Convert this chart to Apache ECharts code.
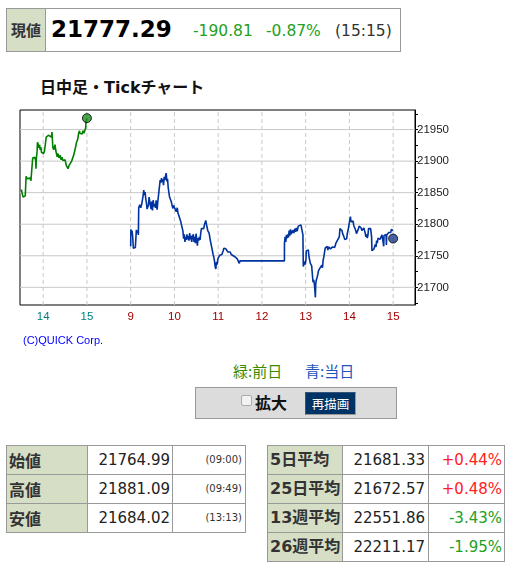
<!DOCTYPE html>
<html><head><meta charset="utf-8">
<script src="https://cdn.jsdelivr.net/npm/echarts@6/dist/echarts.min.js"></script>
<style>
html,body{margin:0;padding:0;background:#fff;width:513px;height:569px;overflow:hidden;font-family:'DejaVu Sans','Noto Sans CJK JP',sans-serif;}
.a{position:absolute;white-space:nowrap;}
.cell{position:absolute;box-sizing:border-box;border:1px solid #999;}
.hd{background:#d6dec6;}
.cjb{font-family:'Noto Sans CJK JP',sans-serif;font-weight:bold;}
.cjbd{font-family:'DejaVu Sans','Noto Sans CJK JP',sans-serif;font-weight:bold;}
.cj{font-family:'Noto Sans CJK JP',sans-serif;}
</style></head>
<body>
<div id="page"></div>
<div id="chart" class="a" style="left:0;top:100px;width:513px;height:255px;"></div>
<script>
// ===== data =====
const currentPrice = '21777.29';
const change = '-190.81';
const changePct = '-0.87%';
const asOf = '(15:15)';
const prevClose = 21968.10;
const lastPrice = 21777.29;
// previous day ticks [hour, value] (13:30-15:00)
const prevTicks = [[13.50,21855],[13.52,21857],[13.53,21852],[13.54,21843],[13.56,21840],[13.57,21843],[13.59,21845],[13.595,21853],[13.61,21876],[13.63,21872],[13.65,21874],[13.67,21871],[13.70,21873],[13.72,21869],[13.73,21866],[13.75,21872],[13.76,21905],[13.79,21908],[13.80,21903],[13.81,21906],[13.83,21900],[13.835,21888],[13.845,21905],[13.86,21915],[13.87,21930],[13.89,21926],[13.90,21921],[13.92,21926],[13.93,21918],[13.95,21922],[13.96,21914],[13.99,21917],[14.01,21912],[14.03,21916],[14.05,21913],[14.07,21938],[14.10,21935],[14.12,21941],[14.14,21938],[14.16,21942],[14.19,21938],[14.20,21946],[14.21,21935],[14.22,21922],[14.24,21918],[14.27,21926],[14.29,21916],[14.30,21919],[14.32,21907],[14.34,21912],[14.36,21905],[14.39,21909],[14.41,21902],[14.43,21906],[14.45,21901],[14.47,21904],[14.50,21902],[14.52,21900],[14.53,21893],[14.56,21891],[14.57,21888],[14.59,21893],[14.61,21891],[14.63,21895],[14.65,21900],[14.67,21903],[14.70,21910],[14.72,21916],[14.74,21922],[14.76,21929],[14.79,21935],[14.81,21944],[14.83,21948],[14.84,21944],[14.87,21947],[14.89,21943],[14.91,21948],[14.93,21944],[14.96,21947],[14.97,21952],[14.98,21963],[15.00,21968]];
// today morning ticks [hour, value] (9:00-11:30)
const amTicks = [[9.000,21765],[9.005,21792],[9.015,21785],[9.030,21790],[9.046,21781],[9.061,21762],[9.084,21760],[9.107,21763],[9.123,21760],[9.130,21791],[9.146,21786],[9.161,21790],[9.176,21783],[9.184,21826],[9.207,21831],[9.230,21826],[9.253,21832],[9.268,21829],[9.284,21845],[9.299,21854],[9.314,21846],[9.330,21851],[9.345,21840],[9.360,21834],[9.375,21824],[9.391,21822],[9.406,21830],[9.421,21843],[9.437,21836],[9.452,21833],[9.467,21824],[9.483,21836],[9.498,21822],[9.513,21838],[9.536,21828],[9.552,21832],[9.567,21826],[9.582,21838],[9.605,21823],[9.621,21836],[9.644,21833],[9.659,21836],[9.674,21870],[9.690,21866],[9.705,21873],[9.720,21867],[9.736,21871],[9.751,21862],[9.766,21875],[9.782,21870],[9.797,21876],[9.812,21881],[9.828,21868],[9.843,21872],[9.858,21858],[9.874,21850],[9.889,21843],[9.904,21845],[9.927,21836],[9.950,21829],[9.966,21825],[9.981,21830],[10.004,21826],[10.027,21828],[10.042,21820],[10.065,21826],[10.080,21818],[10.103,21816],[10.119,21810],[10.142,21805],[10.165,21798],[10.180,21800],[10.195,21789],[10.210,21777],[10.226,21784],[10.241,21772],[10.257,21780],[10.272,21775],[10.287,21784],[10.303,21776],[10.318,21781],[10.333,21774],[10.349,21786],[10.364,21776],[10.379,21782],[10.395,21772],[10.410,21779],[10.433,21784],[10.448,21772],[10.464,21780],[10.479,21770],[10.494,21785],[10.510,21776],[10.525,21766],[10.540,21778],[10.556,21774],[10.571,21780],[10.586,21775],[10.602,21786],[10.617,21793],[10.632,21790],[10.655,21795],[10.670,21793],[10.686,21799],[10.701,21800],[10.716,21806],[10.732,21800],[10.747,21797],[10.762,21790],[10.778,21793],[10.793,21786],[10.808,21783],[10.824,21773],[10.839,21770],[10.854,21763],[10.870,21760],[10.885,21752],[10.900,21748],[10.916,21742],[10.931,21733],[10.946,21729],[10.962,21740],[10.977,21736],[10.992,21745],[11.008,21748],[11.023,21746],[11.038,21751],[11.054,21749],[11.069,21754],[11.084,21752],[11.100,21755],[11.115,21758],[11.130,21762],[11.146,21759],[11.161,21765],[11.176,21761],[11.192,21764],[11.207,21759],[11.222,21756],[11.238,21758],[11.253,21754],[11.276,21756],[11.299,21752],[11.322,21753],[11.345,21750],[11.368,21751],[11.391,21748],[11.414,21746],[11.437,21745],[11.460,21742],[11.483,21738],[11.500,21742]];
// today afternoon ticks [hour, value] (12:30-15:00)
const pmTicks = [[12.515,21742],[12.516,21770],[12.531,21780],[12.546,21772],[12.562,21783],[12.577,21778],[12.592,21784],[12.608,21779],[12.623,21790],[12.638,21782],[12.654,21792],[12.669,21784],[12.685,21790],[12.700,21786],[12.715,21791],[12.731,21786],[12.754,21793],[12.769,21788],[12.785,21794],[12.808,21789],[12.831,21797],[12.846,21799],[12.869,21797],[12.892,21799],[12.915,21796],[12.931,21797],[12.938,21783],[12.946,21733],[12.962,21730],[12.977,21741],[12.992,21736],[13.008,21745],[13.015,21758],[13.031,21760],[13.046,21757],[13.062,21759],[13.077,21748],[13.092,21745],[13.108,21738],[13.123,21739],[13.138,21734],[13.154,21720],[13.169,21708],[13.185,21712],[13.200,21705],[13.215,21703],[13.223,21684],[13.231,21706],[13.246,21712],[13.262,21716],[13.277,21720],[13.292,21726],[13.308,21723],[13.323,21730],[13.338,21733],[13.354,21729],[13.369,21735],[13.385,21731],[13.400,21743],[13.415,21748],[13.431,21751],[13.446,21762],[13.462,21765],[13.477,21761],[13.492,21765],[13.508,21759],[13.523,21764],[13.538,21762],[13.554,21765],[13.569,21761],[13.585,21763],[13.600,21760],[13.615,21764],[13.631,21762],[13.646,21766],[13.662,21763],[13.677,21766],[13.692,21770],[13.708,21773],[13.723,21771],[13.738,21776],[13.754,21778],[13.769,21780],[13.785,21793],[13.800,21795],[13.815,21792],[13.831,21790],[13.846,21785],[13.862,21787],[13.877,21780],[13.892,21776],[13.908,21779],[13.923,21775],[13.938,21777],[13.954,21786],[13.969,21790],[13.985,21788],[14.000,21791],[14.008,21806],[14.023,21812],[14.038,21804],[14.054,21807],[14.069,21803],[14.085,21805],[14.100,21798],[14.115,21795],[14.131,21797],[14.146,21790],[14.162,21785],[14.177,21788],[14.192,21784],[14.208,21793],[14.223,21797],[14.238,21795],[14.254,21797],[14.269,21794],[14.285,21790],[14.300,21793],[14.315,21789],[14.331,21794],[14.346,21790],[14.362,21786],[14.377,21780],[14.392,21784],[14.408,21778],[14.423,21782],[14.438,21793],[14.454,21794],[14.469,21791],[14.485,21793],[14.500,21791],[14.508,21780],[14.515,21758],[14.531,21760],[14.546,21757],[14.562,21761],[14.577,21758],[14.592,21768],[14.608,21764],[14.623,21774],[14.638,21770],[14.654,21778],[14.669,21775],[14.685,21778],[14.700,21776],[14.715,21779],[14.731,21776],[14.746,21783],[14.762,21780],[14.777,21784],[14.785,21765],[14.792,21782],[14.808,21785],[14.823,21782],[14.838,21784],[14.846,21767],[14.854,21783],[14.869,21786],[14.885,21783],[14.900,21787],[14.915,21785],[14.931,21790],[14.946,21787],[14.962,21792],[14.977,21789],[14.992,21794],[15.000,21790]];
// axis tick labels
const xTickLabels = ['14','15','9','10','11','12','13','14','15'];
const xTickDay = ['prev','prev','today','today','today','today','today','today','today'];
const yTickLabels = [21700,21750,21800,21850,21900,21950];
// summary tables
const ohlLabels = ['始値','高値','安値'];
const ohlValues = ['21764.99','21881.09','21684.02'];
const ohlTimes = ['(09:00)','(09:49)','(13:13)'];
const maLabels = ['5日平均','25日平均','13週平均','26週平均'];
const maValues = ['21681.33','21672.57','22551.86','22211.17'];
const maDiffs = ['+0.44%','+0.48%','-3.43%','-1.95%'];
</script>
<script>
// ===== page (HTML) =====
const page = document.getElementById('page');
function add(html){ page.insertAdjacentHTML('beforeend', html); }
function txt(left, cy, lh, cls, style, text){
  add(`<div class="a ${cls}" style="left:${left}px;top:${cy-lh/2}px;line-height:${lh}px;${style}">${text}</div>`);
}
function rtxt(right, cy, lh, cls, style, text){
  add(`<div class="a ${cls}" style="right:${513-right}px;top:${cy-lh/2}px;line-height:${lh}px;text-align:right;${style}">${text}</div>`);
}
// top price box
add('<div class="cell" style="left:6px;top:8px;width:395px;height:44px;"></div>');
add('<div class="cell hd" style="left:6px;top:8px;width:40px;height:44px;"></div>');
txt(11, 29.5, 20, 'cjb', 'font-size:15px;color:#333;', '現値');
txt(51, 29, 30, '', 'font-weight:bold;font-size:23px;color:#000;', currentPrice);
txt(193, 31.3, 20, '', 'font-size:15.5px;color:#22a022;', change);
txt(266, 31.3, 20, '', 'font-size:15.5px;color:#22a022;', changePct);
txt(335, 31.3, 20, '', 'font-size:15.5px;color:#333;', asOf);
// title
txt(40, 87.5, 22, 'cjbd', 'font-size:16px;color:#111;', '日中足・Tickチャート');
// legend
txt(233, 371, 20, 'cj', 'font-size:15px;color:#3a8a00;', '緑:前日');
txt(305, 371, 20, 'cj', 'font-size:15px;color:#2255bb;', '青:当日');
// control bar
add('<div class="cell" style="left:195px;top:387px;width:202px;height:32px;background:#dcdcdc;"></div>');
add('<div class="a" style="left:241px;top:395px;width:9px;height:9px;border:1px solid #aaa;border-radius:2px;background:#f2f2f2;"></div>');
txt(255, 402, 20, 'cjb', 'font-size:16px;color:#111;', '拡大');
add('<div class="a cj" style="left:305px;top:392px;width:51px;height:23px;box-sizing:border-box;background:#003366;border:1px solid;border-color:#335577 #999 #999 #335577;color:#fff;font-size:12.5px;line-height:21px;text-align:center;">再描画</div>');
// OHL table
const lCols = [6, 86.7, 172.3, 245.7];
const rowY = [445, 474, 503, 532, 561];
for (let i = 0; i < ohlLabels.length; i++) {
  const y0 = rowY[i], h = rowY[i+1]-rowY[i]+1;
  add(`<div class="cell hd" style="left:${lCols[0]}px;top:${y0}px;width:${lCols[1]-lCols[0]+1}px;height:${h}px;"></div>`);
  add(`<div class="cell" style="left:${lCols[1]}px;top:${y0}px;width:${lCols[2]-lCols[1]+1}px;height:${h}px;"></div>`);
  add(`<div class="cell" style="left:${lCols[2]}px;top:${y0}px;width:${lCols[3]-lCols[2]}px;height:${h}px;"></div>`);
  const cy = y0 + 14.5;
  txt(9, cy, 20, 'cjb', 'font-size:16px;color:#333;', ohlLabels[i]);
  rtxt(170, cy, 20, '', 'font-size:15px;color:#222;', ohlValues[i]);
  rtxt(242, cy, 14, '', 'font-size:10px;color:#333;', ohlTimes[i]);
}
// MA table
const rCols = [266.7, 341.7, 428.3, 505];
for (let i = 0; i < maLabels.length; i++) {
  const y0 = rowY[i], h = rowY[i+1]-rowY[i]+1;
  add(`<div class="cell hd" style="left:${rCols[0]}px;top:${y0}px;width:${rCols[1]-rCols[0]+1}px;height:${h}px;"></div>`);
  add(`<div class="cell" style="left:${rCols[1]}px;top:${y0}px;width:${rCols[2]-rCols[1]+1}px;height:${h}px;"></div>`);
  add(`<div class="cell" style="left:${rCols[2]}px;top:${y0}px;width:${rCols[3]-rCols[2]}px;height:${h}px;"></div>`);
  const cy = y0 + 14.5;
  txt(270, cy, 20, 'cjbd', 'font-size:16px;color:#333;', maLabels[i]);
  rtxt(425, cy, 20, '', 'font-size:15px;color:#222;', maValues[i]);
  const col = maDiffs[i].startsWith('+') ? '#ff2020' : '#22a022';
  rtxt(502, cy, 20, '', `font-size:15px;color:${col};`, maDiffs[i]);
}

// ===== chart =====
const X_MIN = -0.53, X_MAX = 8.5, Y_MIN = 21672, Y_MAX = 21981;
const prevData = prevTicks.map(p => [p[0] - 14, p[1]]);
const todayData = amTicks.concat(pmTicks).map(p => [p[0] - 7, p[1]]);
const xSlots = xTickLabels.map((_, i) => i);
const gridColor = '#c8c8c8';
const labelFont = "'Liberation Sans Narrow','Liberation Sans',sans-serif";
const gridSeries = yTickLabels.map(v => ({
  type: 'line', data: [[X_MIN, v], [X_MAX, v]], symbol: 'none', silent: true, z: 1,
  lineStyle: {color: gridColor, width: 1, type: 'solid'}
})).concat(xSlots.map(t => ({
  type: 'line', data: [[t, Y_MIN], [t, Y_MAX]], symbol: 'none', silent: true, z: 1,
  lineStyle: {color: gridColor, width: 1, type: [4, 3]}
})));
const chart = echarts.init(document.getElementById('chart'), null, {renderer: 'canvas'});
chart.setOption({
  animation: false,
  grid: {left: 20, top: 10, width: 395, height: 195, show: true, borderColor: '#000', borderWidth: 1, backgroundColor: 'transparent'},
  xAxis: {
    type: 'value', min: X_MIN, max: X_MAX,
    axisLine: {show: false, onZero: false}, axisTick: {show: false}, splitLine: {show: false},
    axisLabel: {
      customValues: xSlots, margin: 6, fontSize: 11.5, fontFamily: labelFont,
      formatter: v => { const i = Math.round(v); return '{' + xTickDay[i] + '|' + xTickLabels[i] + '}'; },
      rich: {prev: {color: '#008080', fontSize: 11.5, fontFamily: labelFont},
             today: {color: '#a00000', fontSize: 11.5, fontFamily: labelFont}}
    }
  },
  yAxis: {
    type: 'value', position: 'right', min: Y_MIN, max: Y_MAX,
    axisLine: {show: true, onZero: false, lineStyle: {color: '#000', width: 1}},
    axisTick: {show: true, length: 3, inside: false, customValues: [21675,21700,21725,21750,21775,21800,21825,21850,21875,21900,21925,21950,21975], lineStyle: {color: '#000'}},
    splitLine: {show: false},
    axisLabel: {customValues: yTickLabels, margin: 2, color: '#222', fontSize: 11.5, fontFamily: labelFont,
      formatter: v => String(Math.round(v))}
  },
  graphic: [{type: 'text', left: 23, top: 235, style: {text: '(C)QUICK Corp.', fill: '#0000ff', font: '11px "Liberation Sans", Arial, sans-serif'}}],
  series: gridSeries.concat([
    {type: 'line', data: prevData, symbol: 'none', z: 3, lineStyle: {color: '#008000', width: 1.6}},
    {type: 'line', data: todayData, symbol: 'none', z: 3, lineStyle: {color: '#0033a0', width: 1.6}},
    {type: 'scatter', z: 4, symbolSize: 9, data: [
      {value: [1, prevClose], itemStyle: {color: '#1f8a1f', borderColor: '#000', borderWidth: 1}},
      {value: [8, lastPrice], itemStyle: {color: '#1a3a8a', borderColor: '#000', borderWidth: 1}}
    ]}
  ])
});
</script>
</body></html>
